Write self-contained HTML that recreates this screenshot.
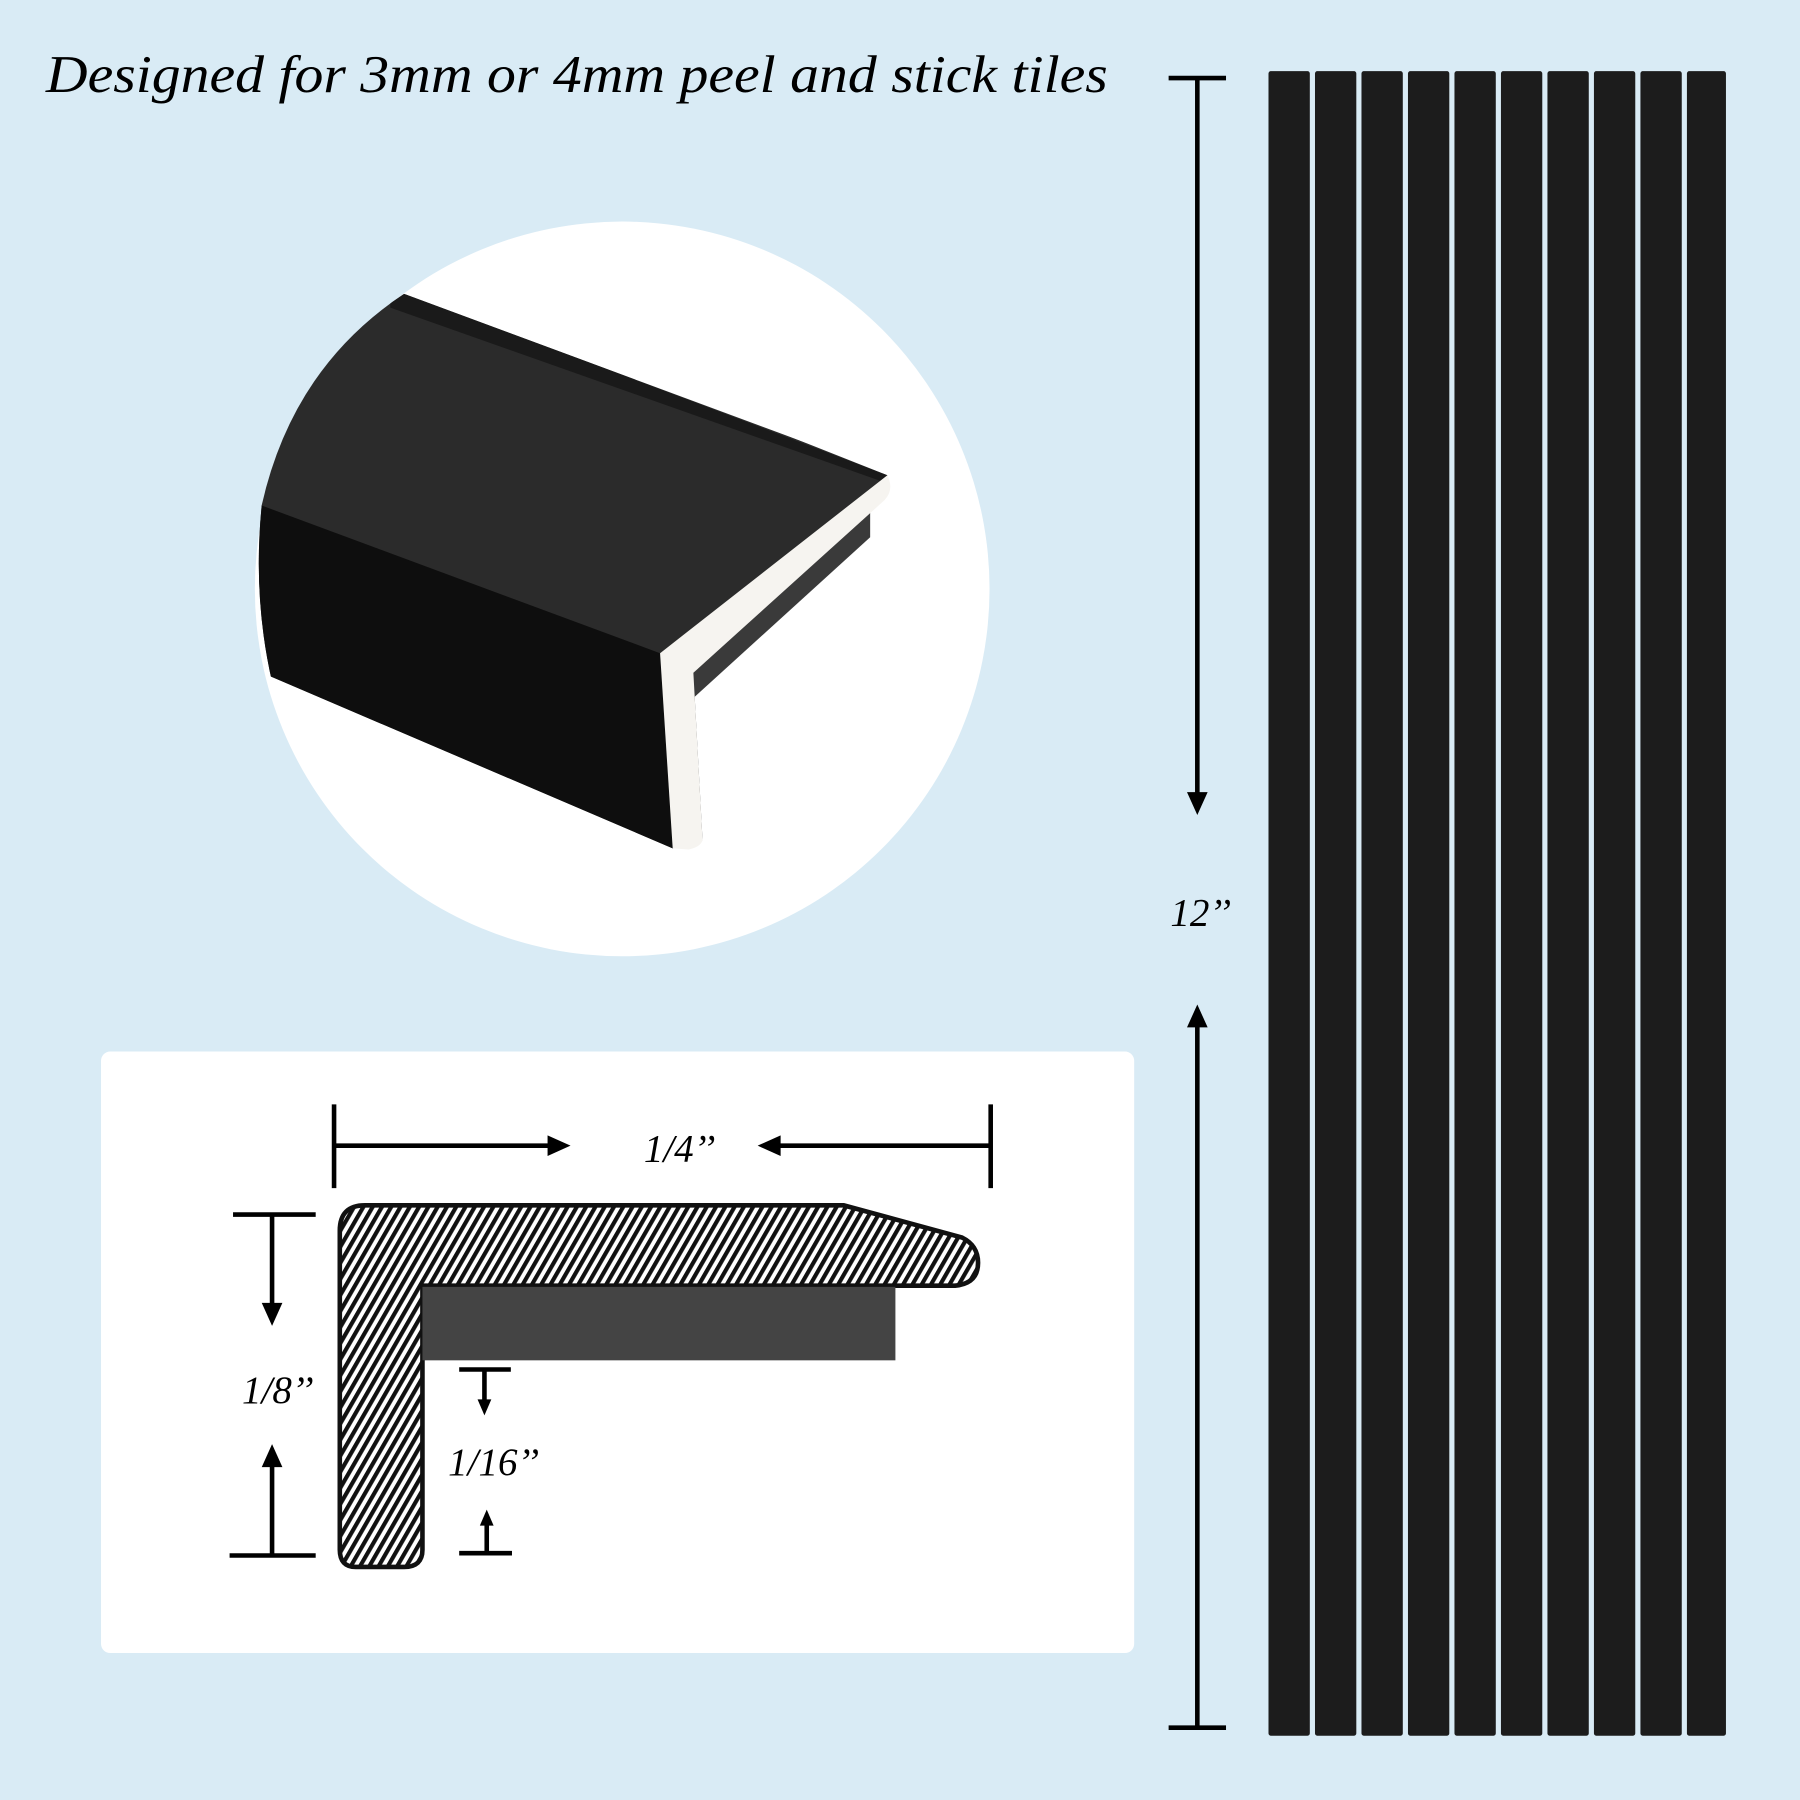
<!DOCTYPE html>
<html><head><meta charset="utf-8"><style>html,body{margin:0;padding:0;background:#d9ebf5}svg{display:block}</style></head><body>
<svg width="1800" height="1800" viewBox="0 0 1568 1568" xmlns="http://www.w3.org/2000/svg">
<defs>
<pattern id="h" patternUnits="userSpaceOnUse" width="7" height="7" patternTransform="rotate(30)">
<rect width="7" height="7" fill="#fff"/><rect width="3.6" height="7" fill="#111"/>
</pattern>
<clipPath id="c"><path d="M352,256 L800,422 L800,760 L600,760 L237,594 Q220,520 228,440 Q255,320 352,256Z"/></clipPath>
</defs>
<rect width="1568" height="1568" fill="#d9ebf5"/>
<text x="40" y="80" font-family="Liberation Serif, serif" font-style="italic" font-size="46" textLength="925" lengthAdjust="spacingAndGlyphs" fill="#000">Designed for 3mm or 4mm peel and stick tiles</text>
<circle cx="542" cy="513" r="320" fill="#fff"/>
<g clip-path="url(#c)">
<path d="M334,240 L773,414 L760,444 L604,586 L612,732 L586,739 L200,574 L200,240Z" fill="#2b2b2b"/>
<path d="M200,430 L575,569 L586,739 L200,574Z" fill="#0e0e0e"/>
<path d="M340,250 L773,414 L770,420 L340,268 Z" fill="#1a1a1a"/>
<path d="M604,586 L604,608 L758,468 L758,444Z" fill="#3a3a3a"/>
<path d="M773,414 Q780,428 768,438 L604,586 L612,732 Q610,738 600,740 L586,739 L575,569Z" fill="#f6f4f0"/>
</g>
<rect x="88" y="916" width="900" height="524" rx="8" fill="#fff"/>
<path d="M318,1050 L735,1050 L838,1078 Q852,1085 852,1100 Q852,1118 832,1120 L368,1120 L368,1350 Q368,1365 352,1365 L310,1365 Q296,1365 296,1350 L296,1072 Q296,1050 318,1050Z" fill="url(#h)" stroke="#111" stroke-width="4"/>
<rect x="368" y="1121" width="412" height="64" fill="#444"/>
<g stroke="#000" stroke-width="4" fill="none">
<line x1="291" y1="962" x2="291" y2="1035"/><line x1="863" y1="962" x2="863" y2="1035"/>
<line x1="291" y1="998" x2="482" y2="998"/>
<line x1="863" y1="998" x2="675" y2="998"/>
<line x1="203" y1="1058" x2="275" y2="1058"/>
<line x1="237" y1="1058" x2="237" y2="1140"/>
<line x1="200" y1="1355" x2="275" y2="1355"/>
<line x1="237" y1="1355" x2="237" y2="1273"/>
<line x1="400" y1="1193" x2="445" y2="1193"/>
<line x1="422" y1="1193" x2="422" y2="1222"/>
<line x1="400" y1="1353" x2="446" y2="1353"/>
<line x1="424" y1="1353" x2="424" y2="1326"/>
<line x1="1018" y1="68" x2="1068" y2="68"/>
<line x1="1043" y1="68" x2="1043" y2="695"/>
<line x1="1018" y1="1505" x2="1068" y2="1505"/>
<line x1="1043" y1="1505" x2="1043" y2="890"/>
</g>
<g fill="#000">
<polygon points="477,989 497,998 477,1007"/>
<polygon points="680,989 660,998 680,1007"/>
<polygon points="228,1135 237,1155 246,1135"/>
<polygon points="228,1278 237,1258 246,1278"/>
<polygon points="416,1219 422,1233 428,1219"/>
<polygon points="418,1329 424,1315 430,1329"/>
<polygon points="1034,690 1043,710 1052,690"/>
<polygon points="1034,895 1043,875 1052,895"/>
</g>
<g font-family="Liberation Serif, serif" font-style="italic" font-size="34" fill="#000" text-anchor="middle">
<text x="592" y="1012">1/4’’</text>
<text x="242" y="1222">1/8’’</text>
<text x="430" y="1285">1/16’’</text>
<text x="1046" y="806">12’’</text>
</g>
<g fill="#1c1c1c">
<rect x="1105" y="62" width="36" height="1450" rx="2"/>
<rect x="1145.5" y="62" width="36" height="1450" rx="2"/>
<rect x="1186" y="62" width="36" height="1450" rx="2"/>
<rect x="1226.5" y="62" width="36" height="1450" rx="2"/>
<rect x="1267" y="62" width="36" height="1450" rx="2"/>
<rect x="1307.5" y="62" width="36" height="1450" rx="2"/>
<rect x="1348" y="62" width="36" height="1450" rx="2"/>
<rect x="1388.5" y="62" width="36" height="1450" rx="2"/>
<rect x="1429" y="62" width="36" height="1450" rx="2"/>
<rect x="1469.5" y="62" width="34" height="1450" rx="2"/>
</g>
</svg>
</body></html>
